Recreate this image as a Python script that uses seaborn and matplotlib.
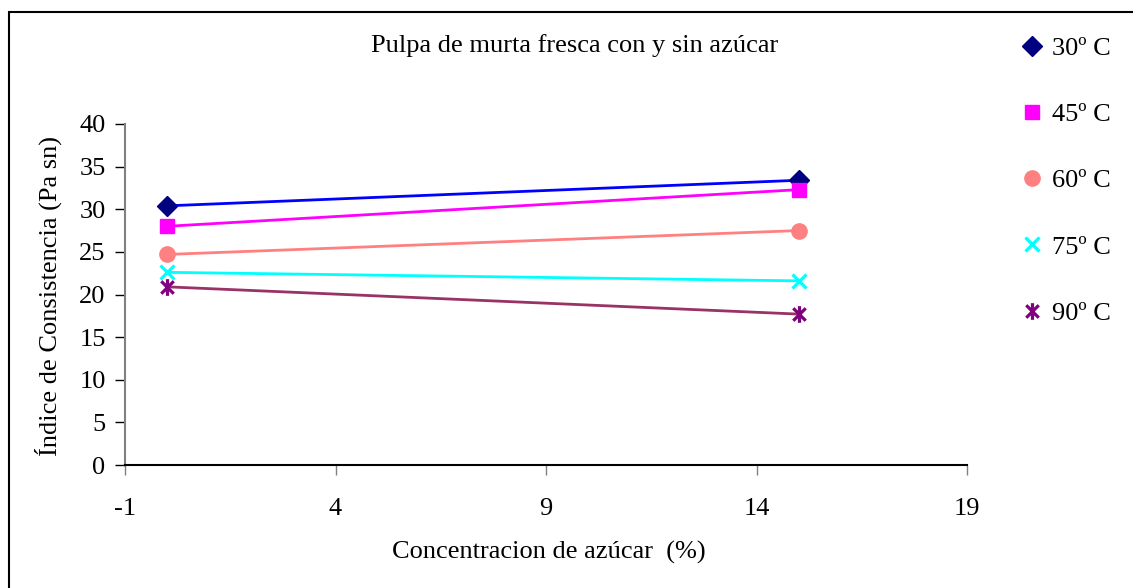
import numpy as np
import pandas as pd
import matplotlib
matplotlib.use("Agg")
import matplotlib.pyplot as plt
from matplotlib.path import Path
from matplotlib.lines import Line2D
from matplotlib.patches import Rectangle
import seaborn as sns

# ---- data ----
concentracion = [0, 15]
series_labels = ["30º C", "45º C", "60º C", "75º C", "90º C"]
v30 = [30.4, 33.4]
v45 = [28.0, 32.3]
v60 = [24.7, 27.5]
v75 = [22.6, 21.6]
v90 = [20.9, 17.7]
x_ticks = [-1, 4, 9, 14, 19]
y_ticks = [0, 5, 10, 15, 20, 25, 30, 35, 40]

title = "Pulpa de murta fresca con y sin azúcar"
xlabel = "Concentracion de azúcar  (%)"
ylabel = "Índice de Consistencia (Pa sn)"

# ---- styling ----
sns.set_theme(style="white")
plt.rcParams["font.family"] = ["Liberation Serif", "DejaVu Serif"]
plt.rcParams["axes.unicode_minus"] = False
plt.rcParams["text.color"] = "black"
plt.rcParams["xtick.labelcolor"] = "black"
plt.rcParams["ytick.labelcolor"] = "black"

FS = 19

asterisk = Path(
    [(0, -1), (0, 1), (-0.75, -0.75), (0.75, 0.75), (-0.75, 0.75), (0.75, -0.75)],
    [Path.MOVETO, Path.LINETO, Path.MOVETO, Path.LINETO, Path.MOVETO, Path.LINETO],
)

styles = [
    dict(line="#0000FF", mcol="#000080", marker="D", ms=10),
    dict(line="#FF00FF", mcol="#FF00FF", marker="s", ms=10.5),
    dict(line="#FF8080", mcol="#FF8080", marker="o", ms=11),
    dict(line="#00FFFF", mcol="#00FFFF", marker="x", ms=10.5),
    dict(line="#993366", mcol="#800080", marker=asterisk, ms=12),
]
values = [v30, v45, v60, v75, v90]

fig = plt.figure(figsize=(11.33, 5.88), dpi=100)
ax = fig.add_axes([125 / 1133, 1 - 465 / 588, (967 - 125) / 1133, (465 - 124) / 588])

handles = []
for lab, vals, st in zip(series_labels, values, styles):
    df = pd.DataFrame({"x": concentracion, "y": vals})
    sns.lineplot(data=df, x="x", y="y", ax=ax, color=st["line"], linewidth=2.0,
                 legend=False, zorder=2)
    thick = st["marker"] == "x" or st["marker"] is asterisk
    line_kw = dict(marker=st["marker"], markersize=st["ms"], linestyle="none",
                   markerfacecolor=st["mcol"], markeredgecolor=st["mcol"],
                   markeredgewidth=2.3 if thick else 1.0)
    ax.plot(concentracion, vals, zorder=3, **line_kw)
    handles.append(Line2D([], [], **line_kw))

ax.set_xlim(-1, 19)
ax.set_ylim(0, 40)
ax.set_xticks(x_ticks)
ax.set_yticks(y_ticks)
ax.set_xlabel("")
ax.set_ylabel("")
ax.grid(False)

for s in ["top", "right"]:
    ax.spines[s].set_visible(False)
ax.spines["left"].set_color("#808080")
ax.spines["left"].set_linewidth(1.5)
ax.spines["bottom"].set_color("black")
ax.spines["bottom"].set_linewidth(1.5)

ax.tick_params(axis="x", direction="out", length=7, width=1, color="#808080",
               labelsize=FS, pad=17, bottom=True, labelcolor="black")
ax.tick_params(axis="y", direction="out", length=7, width=1, color="black",
               labelsize=FS, pad=7, left=True, labelcolor="black")

fig.text(575 / 1133, 1 - 46 / 588, title, ha="center", va="center", fontsize=FS)
fig.text(549 / 1133, 1 - 552 / 588, xlabel, ha="center", va="center", fontsize=FS)
fig.text(48 / 1133, 1 - 296 / 588, ylabel, ha="center", va="center", fontsize=FS,
         rotation=90)

leg = fig.legend(handles=handles, labels=series_labels, loc="upper left",
                 bbox_to_anchor=(1010 / 1133, 1 - 26 / 588), frameon=False,
                 fontsize=FS, handlelength=0.9, handletextpad=0.3,
                 labelspacing=1.62, borderaxespad=0)

fig.patches.append(Rectangle((9 / 1133, -0.1), 1.2, 1 - 12 / 588 + 0.1,
                             transform=fig.transFigure, fill=False,
                             edgecolor="black", linewidth=1.5, zorder=0))

fig.savefig("out.png", dpi=100)
